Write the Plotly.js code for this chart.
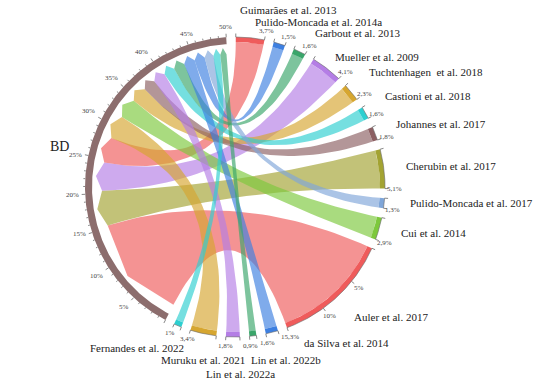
<!DOCTYPE html>
<html><head><meta charset="utf-8">
<script src="https://cdn.plot.ly/plotly-3.0.1.min.js"></script>
<style>html,body{margin:0;padding:0;background:#fff}#chart{width:543px;height:388px}
#chart text{font-family:"Liberation Serif","DejaVu Serif",serif !important}</style>
</head><body><div id="chart"></div>
<script>
// ---------- data ----------
const hubName = "BD";
const hubTotal = 50;
const studies = ["Guimarães et al. 2013", "Pulido-Moncada et al. 2014a", "Garbout et al. 2013", "Mueller et al. 2009",
  "Tuchtenhagen  et al. 2018", "Castioni et al. 2018", "Johannes et al. 2017", "Cherubin et al. 2017",
  "Pulido-Moncada et al. 2017", "Cui et al. 2014", "Auler et al. 2017", "da Silva et al. 2014",
  "Lin et al. 2022b", "Lin et al. 2022a", "Muruku et al. 2021", "Fernandes et al. 2022"];
const shares = [3.7, 1.5, 1.6, 4.1, 2.3, 1.6, 1.8, 5.1, 1.3, 2.9, 15.3, 1.6, 0.9, 1.8, 3.4, 1.0];
const shareLabels = shares.map(v => String(v).replace('.', ',') + '%');
// order of link ends along BD, starting from 0%
const hubOrder = ["Auler et al. 2017", "Cherubin et al. 2017", "Mueller et al. 2009", "Guimarães et al. 2013",
  "Muruku et al. 2021", "Cui et al. 2014", "Tuchtenhagen  et al. 2018", "Johannes et al. 2017", "Lin et al. 2022a",
  "Castioni et al. 2018", "Garbout et al. 2013", "da Silva et al. 2014", "Pulido-Moncada et al. 2014a",
  "Pulido-Moncada et al. 2017", "Fernandes et al. 2022", "Lin et al. 2022b"];
const hubTickValues = [5, 10, 15, 20, 25, 30, 35, 40, 45, 50];
const hubTickLabels = hubTickValues.map(v => v + '%');

// ---------- styles / layout constants ----------
const palette = ['#ef5b5b','#3d7fe0','#3aa56a','#b47ee5','#d6a630','#2dcfd0','#8c5f62','#a3a332','#7fa6d9','#7dc83c'];
const hubColor = '#8c6d6d';
const SERIF = "'Liberation Serif', 'DejaVu Serif', serif";
const nameLeft = [[238,10],[253,22],[313,33],[333,57],[367,72],[383,96],[394,124],[404,166],[408,203],[399,233],
  [352,317],[302,343],[249,360],[204,374],[159,360],[88,348]];
const hubLabelPos = [48,146];
const CX = 235, CY = 187, R_OUT = 150, R_HUB_IN = 143, R_ST_IN = 145, R_LINK = 133, R_TIP = 139.5;
const GAP = 3.66, START = 242.4;

const total = hubTotal + shares.reduce((a, b) => a + b, 0);
const U = (360 - (studies.length + 1) * GAP) / total;

function pt(r, deg) { const t = deg * Math.PI / 180; return [CX + r * Math.cos(t), CY - r * Math.sin(t)]; }
function arc(r, a0, a1, n) { const o = []; for (let k = 0; k <= n; k++) o.push(pt(r, a0 + (a1 - a0) * k / n)); return o; }
function bez(p0, p2, n) { const o = []; for (let k = 0; k <= n; k++) { const t = k / n, u = 1 - t;
  o.push([u*u*p0[0] + 2*u*t*CX + t*t*p2[0], u*u*p0[1] + 2*u*t*CY + t*t*p2[1]]); } return o; }
function band(r0, r1, a0, a1) { const n = Math.max(4, Math.ceil(Math.abs(a1 - a0) * 2));
  return arc(r1, a0, a1, n).concat(arc(r0, a1, a0, n)); }
function rgba(hex, a) { const v = parseInt(hex.slice(1), 16); return `rgba(${v>>16},${(v>>8)&255},${v&255},${a})`; }
function poly(points, fill, lineColor, lw) {
  const p = points.concat([points[0]]);
  return { type: 'scatter', mode: 'lines', x: p.map(q => q[0]), y: p.map(q => q[1]), fill: 'toself',
    fillcolor: fill, line: { width: lw || 0, color: lineColor || fill }, hoverinfo: 'skip', showlegend: false };
}

// sector angles
const hubStart = START, hubEnd = START - hubTotal * U;
const s0 = [], s1 = [];
let a = hubEnd - GAP;
shares.forEach((v, i) => { s0[i] = a; s1[i] = a - v * U; a = s1[i] - GAP; });
const b0 = [], b1 = [];
let b = hubStart;
hubOrder.forEach(name => { const i = studies.indexOf(name); b0[i] = b; b1[i] = b - shares[i] * U; b = b1[i]; });

const traces = [];
// links
hubOrder.forEach(name => {
  const i = studies.indexOf(name);
  const col = palette[i % palette.length];
  let p = [pt(R_LINK, b0[i]), pt(R_TIP, (b0[i] + b1[i]) / 2), pt(R_LINK, b1[i])];
  p = p.concat(bez(pt(R_LINK, b1[i]), pt(R_ST_IN, s0[i]), 40));
  p = p.concat(arc(R_ST_IN, s0[i], s1[i], Math.max(4, Math.ceil((s0[i] - s1[i]) * 2))));
  p = p.concat(bez(pt(R_ST_IN, s1[i]), pt(R_LINK, b0[i]), 40));
  traces.push(poly(p, rgba(col, 0.66)));
});
// tracks
traces.push(poly(band(R_HUB_IN, R_OUT, hubStart, hubEnd), hubColor));
studies.forEach((s, i) => traces.push(poly(band(R_ST_IN, R_OUT, s0[i], s1[i]), palette[i % palette.length])));

// ticks
const tx = [], ty = [];
function tick(r0, r1, ang) { const p = pt(r0, ang), q = pt(r1, ang); tx.push(p[0], q[0], null); ty.push(p[1], q[1], null); }
for (let v = 0; v <= hubTotal; v += 1) tick(R_OUT, R_OUT + (v % 5 === 0 ? 3.5 : 1.8), hubStart - v * U);
const ax = [], ay = [];
studies.forEach((s, i) => {
  arc(R_OUT, s0[i], s1[i], Math.max(3, Math.ceil((s0[i] - s1[i]) * 2))).forEach(q => { ax.push(q[0]); ay.push(q[1]); });
  ax.push(null); ay.push(null);
  tick(R_OUT, R_OUT + 3.5, s0[i]); tick(R_OUT, R_OUT + 3.5, s1[i]);
  for (let v = 5; v < shares[i] - 0.5; v += 5) tick(R_OUT, R_OUT + 3.5, s0[i] - v * U);
});
traces.push({ type: 'scatter', mode: 'lines', x: ax, y: ay, line: { color: '#6a6a6a', width: 0.6 }, hoverinfo: 'skip', showlegend: false });
traces.push({ type: 'scatter', mode: 'lines', x: tx, y: ty, line: { color: '#555', width: 0.7 }, hoverinfo: 'skip', showlegend: false });

// annotations
const ann = [];
const small = { family: SERIF, size: 7, color: '#444' };
function radialLabel(text, ang, r) {
  const p = pt(r, ang), c = Math.cos(ang * Math.PI / 180), s = Math.sin(ang * Math.PI / 180);
  ann.push({ x: p[0], y: p[1], xref: 'x', yref: 'y', text, showarrow: false, font: small,
    xanchor: c > 0.35 ? 'left' : (c < -0.35 ? 'right' : 'center'),
    yanchor: s > 0.35 ? 'bottom' : (s < -0.35 ? 'top' : 'middle') });
}
hubTickValues.forEach((v, k) => radialLabel(hubTickLabels[k], hubStart - v * U, R_OUT + 4.5));
studies.forEach((s, i) => {
  const e = pt(R_OUT + 9.5, s1[i]);
  ann.push({ x: e[0], y: e[1], xref: 'x', yref: 'y', text: shareLabels[i], showarrow: false, font: small, xanchor: 'center', yanchor: 'middle' });
  for (let v = 5; v < shares[i] - 0.5; v += 5) {
    const q = pt(R_OUT + 10, s0[i] - v * U);
    ann.push({ x: q[0], y: q[1], xref: 'x', yref: 'y', text: v + '%', showarrow: false, font: small, xanchor: 'center', yanchor: 'middle' });
  }
  ann.push({ x: nameLeft[i][0], y: nameLeft[i][1], xref: 'x', yref: 'y', text: s, showarrow: false,
    font: { family: SERIF, size: 11, color: '#222' }, xanchor: 'left', yanchor: 'middle' });
});
ann.push({ x: hubLabelPos[0], y: hubLabelPos[1], xref: 'x', yref: 'y', text: hubName, showarrow: false,
  font: { family: SERIF, size: 14, color: '#222' }, xanchor: 'left', yanchor: 'middle' });

const layout = {
  width: 543, height: 388, margin: { l: 0, r: 0, t: 0, b: 0 },
  font: { family: SERIF },
  paper_bgcolor: '#fff', plot_bgcolor: '#fff', showlegend: false, hovermode: false,
  xaxis: { range: [0, 543], visible: false, fixedrange: true },
  yaxis: { range: [388, 0], visible: false, fixedrange: true },
  annotations: ann
};
Plotly.newPlot('chart', traces, layout, { staticPlot: true, displayModeBar: false });
</script>
</body></html>
